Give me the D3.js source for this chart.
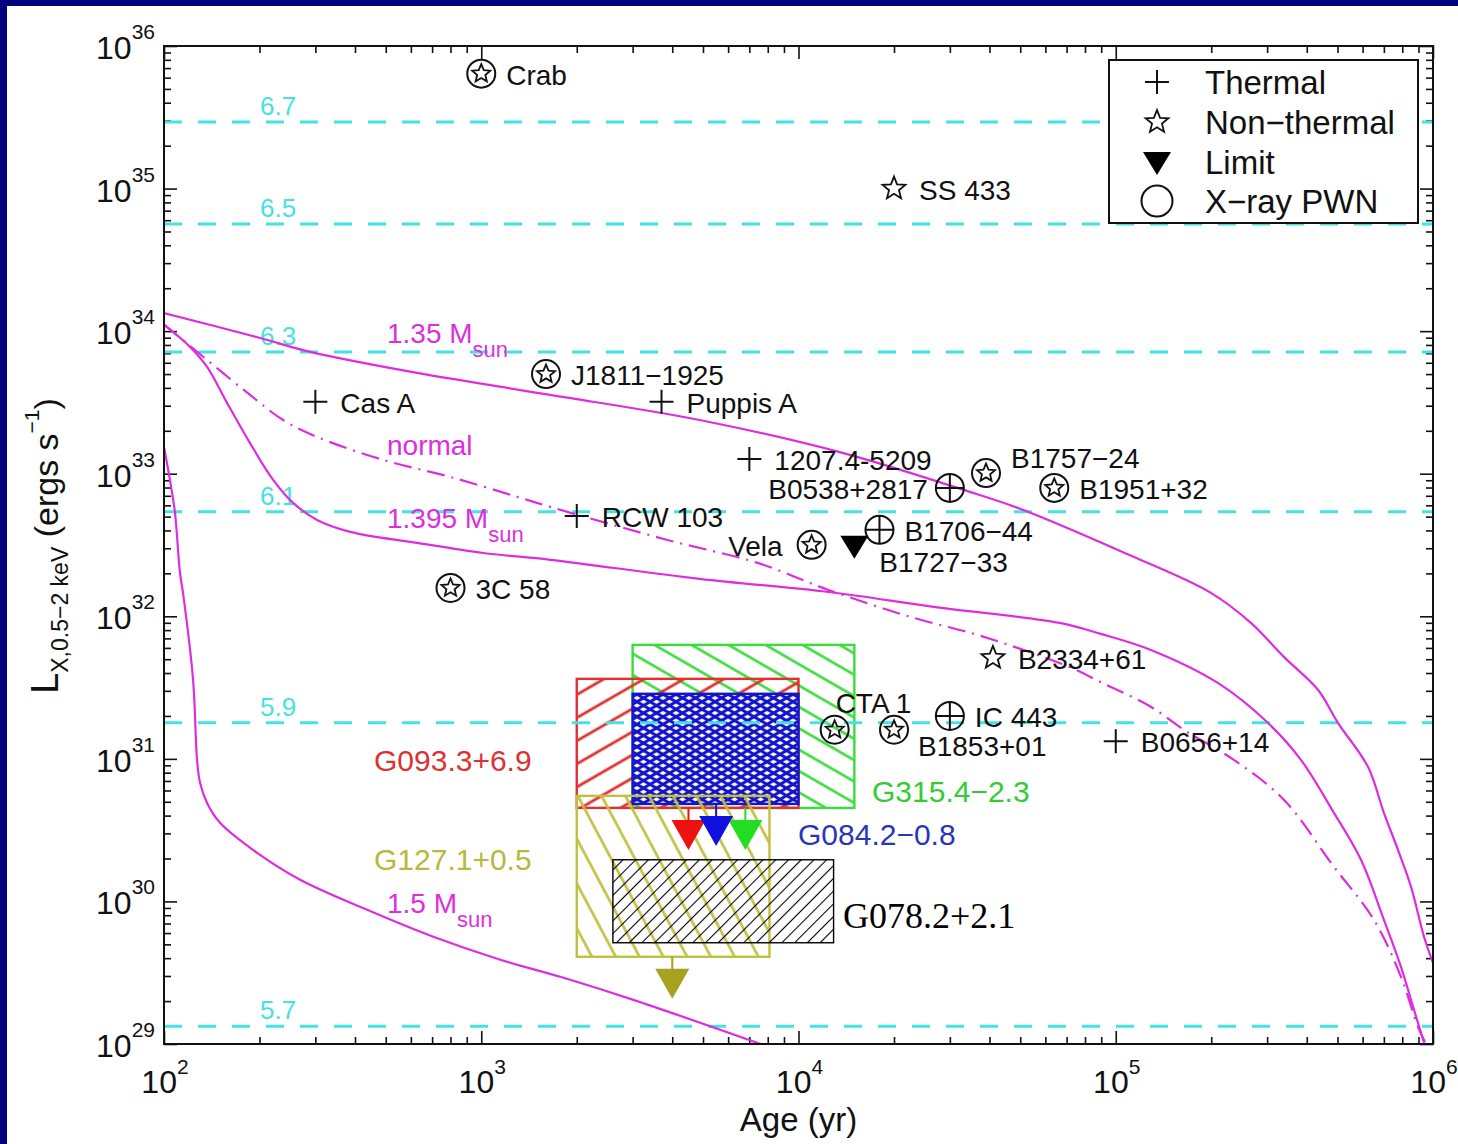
<!DOCTYPE html>
<html>
<head>
<meta charset="utf-8">
<script src="https://cdn.jsdelivr.net/npm/d3@7"></script>
<style>
  body { margin: 0; background: #fff; }
  svg { display: block; font-family: "Liberation Sans", Arial, Helvetica, sans-serif; }
</style>
</head>
<body>
<svg id="chart" width="1458" height="1144"></svg>
<script>
// cooling curves, [age (yr), L_X (erg/s)]
var curve135 = [[100,1.34e34],[201,8.96e33],[289,7.15e33],[628,5.09e33],[1651,3.57e33],[4873,2.38e33],[13760,1.40e33],[33160,7.70e32],[50150,5.66e32],[109900,2.70e32],[199400,1.46e32],[266700,8.99e31],[338800,5.19e31],[433800,3.05e31],[501600,1.79e31],[623700,8.79e30],[700300,4.18e30],[775600,2.30e30],[852300,1.27e30],[936900,5.65e29],[1000000,3.71e29]];
var curveNormal = [[100,1.11e34],[136.7,6.28e33],[186.7,3.57e33],[237.4,2.38e33],[303.8,1.81e33],[490.9,1.25e33],[798.5,9.50e32],[1299,6.88e32],[1651,5.85e32],[3863,3.43e32],[7425,2.37e32],[12430,1.53e32],[23060,9.75e31],[37510,7.29e31],[71590,4.40e31],[89680,3.45e31],[129000,2.32e31],[163900,1.60e31],[235600,9.84e30],[338800,5.16e30],[487300,1.75e30],[651400,7.43e29],[792500,2.96e29],[896800,1.32e29],[950500,1.0e29]];
var curve1395 = [[100,1.11e34],[120.8,7.75e33],[136.7,5.61e33],[158,3.14e33],[186.7,1.64e33],[220.8,9.05e32],[255.3,6.24e32],[303.8,4.74e32],[386.2,3.91e32],[628,3.27e32],[1015,2.78e32],[1651,2.49e32],[4873,1.83e32],[12430,1.48e32],[27050,1.16e32],[66570,8.99e31],[89680,7.53e31],[129000,5.81e31],[209800,3.41e31],[301600,1.79e31],[383400,9.84e30],[487300,4.18e30],[592800,1.96e30],[700300,7.43e29],[792500,3.48e29],[871200,1.74e29],[936900,1.02e29]];
var curve15 = [[100,1.54e33],[104.4,9.05e32],[108.3,5.31e32],[112.3,2.02e32],[114.8,1.46e32],[123.5,3.58e31],[127.1,9.84e30],[129.9,6.79e30],[136.7,4.91e30],[150.2,3.56e30],[196.6,2.19e30],[268.5,1.42e30],[436.9,8.73e29],[705.9,5.65e29],[1148,3.90e29],[1775,2.96e29],[3016,2.04e29],[7590,1.0e29]];

// log T lines
var tempLabels = ["6.7", "6.5", "6.3", "6.1", "5.9", "5.7"];
var tempL = [2.93e35, 5.65e34, 7.15e33, 5.42e32, 1.79e31, 1.33e29];

// known objects
var srcNames = ["Crab","SS 433","J1811\u22121925","Cas A","Puppis A","1207.4-5209","B0538+2817","B1757\u221224","B1951+32","RCW 103","B1706\u221244","Vela","B1727\u221233","3C 58","B2334+61","CTA 1","IC 443","B1853+01","B0656+14"];
var srcAge = [1000, 2.0e4, 1600, 300, 3700, 7000, 3.0e4, 3.9e4, 6.4e4, 2000, 1.8e4, 1.1e4, 1.5e4, 800, 4.1e4, 1.3e4, 3.0e4, 2.0e4, 1.0e5];
var srcL = [6.4e35, 1.0e35, 5.0e33, 3.2e33, 3.2e33, 1.27e33, 7.95e32, 1.01e33, 7.95e32, 5.06e32, 4.04e32, 3.17e32, 3.12e32, 1.58e32, 5.11e31, 1.60e31, 2.0e31, 1.60e31, 1.33e31];
var srcKind = ["pwnNT","NT","pwnNT","TH","TH","TH","pwnTH","pwnNT","pwnNT","TH","pwnTH","pwnNT","LIM","pwnNT","NT","pwnNT","pwnTH","pwnNT","TH"];

// SNR limits (boxes)
var boxNames = ["G315.4\u22122.3", "G093.3+6.9", "G084.2\u22120.8", "G127.1+0.5", "G078.2+2.1"];
var boxAgeLo = [3000, 2000, 3000, 2000, 2600];
var boxAgeHi = [15000, 10000, 10000, 8100, 12900];
var boxLLo = [4.53e30, 4.53e30, 4.83e30, 4.09e29, 5.13e29];
var boxLHi = [6.30e31, 3.64e31, 2.86e31, 5.50e30, 1.96e30];
var boxArrowAge = [6800, 4500, 5500, 4000, null];

var svg = d3.select("#chart");
var magenta = "#dd2edd", cyan = "#45e2e2";

var x = d3.scaleLog().domain([1e2, 1e6]).range([164, 1433]);
var y = d3.scaleLog().domain([1e29, 1e36]).range([1044, 46]);
var x0 = x.range()[0], x1 = x.range()[1], y0 = y.range()[1], y1 = y.range()[0];

svg.append("rect").attr("width", 1458).attr("height", 1144).attr("fill", "#fff");
svg.append("rect").attr("width", 1458).attr("height", 6).attr("fill", "#02027e");
svg.append("rect").attr("width", 7).attr("height", 1144).attr("fill", "#02027e");

var defs = svg.append("defs");
defs.append("clipPath").attr("id", "plotClip").append("rect")
	.attr("x", x0).attr("y", y0).attr("width", x1 - x0).attr("height", y1 - y0);

function hatch(id, color, gap, angle, sw) {
	var p = defs.append("pattern").attr("id", id)
		.attr("patternUnits", "userSpaceOnUse")
		.attr("width", gap).attr("height", gap)
		.attr("patternTransform", "rotate(" + angle + ")");
	p.append("line").attr("x1", -1).attr("x2", gap + 1)
		.attr("y1", gap / 2).attr("y2", gap / 2)
		.attr("stroke", color).attr("stroke-width", sw);
}
hatch("hGreen", "#3ade3a", 18.5, 30, 2.6);
hatch("hRed", "#e03030", 20, -30, 2.8);
hatch("hBlue1", "#1414c8", 6.5, 30, 3);
hatch("hBlue2", "#1414c8", 6.5, -30, 3);
hatch("hYellow", "#c0c040", 21, 62, 2.6);
hatch("hBlack", "#000", 9, -45, 1.1);

var boxStyle = [
	{stroke: "#3ade3a", fills: ["url(#hGreen)"], bg: null, text: "#33cc33", tx: 872, ty: 802, font: "Liberation Sans", size: 30},
	{stroke: "#e03030", fills: ["url(#hRed)"], bg: null, text: "#d83434", tx: 374, ty: 771, font: "Liberation Sans", size: 30},
	{stroke: "#1414c8", fills: ["url(#hBlue1)", "url(#hBlue2)"], bg: "#fff", text: "#2a36b8", tx: 798, ty: 845, font: "Liberation Sans", size: 30},
	{stroke: "#c0c040", fills: ["url(#hYellow)"], bg: null, text: "#b8b83c", tx: 374, ty: 870, font: "Liberation Sans", size: 30},
	{stroke: "#000", fills: ["url(#hBlack)"], bg: null, text: "#000", tx: 843, ty: 928, font: "Liberation Serif", size: 36}
];
var arrowFill = ["#22dd22", "#ee1111", "#1111dd", "#a8a020"];

// ---- axes ----
var xMajor = [1e2, 1e3, 1e4, 1e5, 1e6], xMinor = [];
for (var e = 2; e < 6; e++) for (var k = 2; k < 10; k++) xMinor.push(k * Math.pow(10, e));
var yMajor = [], yMinor = [];
for (var e = 29; e <= 36; e++) yMajor.push(Math.pow(10, e));
for (var e = 29; e < 36; e++) for (var k = 2; k < 10; k++) yMinor.push(k * Math.pow(10, e));

function ticks(axisFn, scale, tx, ty, values, len) {
	svg.append("g").attr("transform", "translate(" + tx + "," + ty + ")")
		.call(axisFn(scale).tickValues(values).tickSize(-len).tickFormat(""))
		.call(function(g) {
			g.select(".domain").remove();
			g.selectAll("line").attr("stroke", "#111").attr("stroke-width", 1.6);
		});
}
[[xMajor, 13], [xMinor, 7]].forEach(function(t) {
	ticks(d3.axisBottom, x, 0, y1, t[0], t[1]);
	ticks(d3.axisTop, x, 0, y0, t[0], t[1]);
});
[[yMajor, 13], [yMinor, 7]].forEach(function(t) {
	ticks(d3.axisLeft, y, x0, 0, t[0], t[1]);
	ticks(d3.axisRight, y, x1, 0, t[0], t[1]);
});

yMajor.forEach(function(v) {
	var t = svg.append("text").attr("x", x0 - 9).attr("y", y(v) + 13)
		.attr("text-anchor", "end").attr("font-size", 32).attr("fill", "#111");
	t.append("tspan").text("10");
	t.append("tspan").attr("dy", -20).attr("font-size", 21).text(Math.round(Math.log10(v)));
});
xMajor.forEach(function(v) {
	var t = svg.append("text").attr("x", x(v) + 1).attr("y", 1093)
		.attr("text-anchor", "middle").attr("font-size", 32).attr("fill", "#111");
	t.append("tspan").text("10");
	t.append("tspan").attr("dy", -19).attr("font-size", 21).text(Math.round(Math.log10(v)));
});

svg.append("text").attr("x", (x0 + x1) / 2).attr("y", 1131)
	.attr("text-anchor", "middle").attr("font-size", 33).attr("fill", "#111").text("Age (yr)");

var yl = svg.append("text").attr("transform", "translate(58,546) rotate(-90)")
	.attr("text-anchor", "middle").attr("font-size", 34).attr("fill", "#111");
yl.append("tspan").attr("font-size", 38).text("L");
yl.append("tspan").attr("font-size", 23).attr("dy", 10).text("X,0.5\u22122 keV");
yl.append("tspan").attr("dy", -10).text(" (ergs s");
yl.append("tspan").attr("font-size", 21).attr("dy", -19).text("\u22121");
yl.append("tspan").attr("dy", 19).text(")");

// ---- boxes ----
boxNames.forEach(function(name, i) {
	var st = boxStyle[i];
	var bx = x(boxAgeLo[i]), bw = x(boxAgeHi[i]) - bx;
	var by = y(boxLHi[i]), bh = y(boxLLo[i]) - by;
	if (st.bg) svg.append("rect").attr("x", bx).attr("y", by).attr("width", bw).attr("height", bh).attr("fill", st.bg);
	st.fills.forEach(function(f) {
		svg.append("rect").attr("x", bx).attr("y", by).attr("width", bw).attr("height", bh).attr("fill", f);
	});
	svg.append("rect").attr("x", bx).attr("y", by).attr("width", bw).attr("height", bh)
		.attr("fill", "none").attr("stroke", st.stroke).attr("stroke-width", i == 4 ? 1.4 : 2.4);
	svg.append("text").attr("x", st.tx).attr("y", st.ty).attr("font-size", st.size)
		.style("font-family", st.font).attr("fill", st.text).text(name);
});
boxNames.forEach(function(name, i) {
	if (!boxArrowAge[i]) return;
	var ax = x(boxArrowAge[i]), ay = y(boxLLo[i]);
	svg.append("line").attr("x1", ax).attr("x2", ax).attr("y1", ay).attr("y2", ay + 13)
		.attr("stroke", arrowFill[i]).attr("stroke-width", 2);
	svg.append("path").attr("d", "M" + (ax - 17) + "," + (ay + 12) + "L" + (ax + 17) + "," + (ay + 12) + "L" + ax + "," + (ay + 42) + "Z")
		.attr("fill", arrowFill[i]);
});

// ---- temperature lines ----
tempL.forEach(function(v, i) {
	svg.append("line").attr("x1", x0).attr("x2", x1).attr("y1", y(v)).attr("y2", y(v))
		.attr("stroke", cyan).attr("stroke-width", 3).attr("stroke-dasharray", "18,16");
	svg.append("text").attr("x", 260).attr("y", y(v) - 7).attr("font-size", 26)
		.attr("fill", cyan).text(tempLabels[i]);
});

// ---- cooling curves ----
var line = d3.line().curve(d3.curveCatmullRom.alpha(0.5))
	.x(function(d) { return x(d[0]); }).y(function(d) { return y(d[1]); });
var cg = svg.append("g").attr("clip-path", "url(#plotClip)");
[curve135, curve1395, curve15].forEach(function(c) {
	cg.append("path").datum(c).attr("d", line).attr("fill", "none")
		.attr("stroke", magenta).attr("stroke-width", 2.2);
});
cg.append("path").datum(curveNormal).attr("d", line).attr("fill", "none")
	.attr("stroke", magenta).attr("stroke-width", 2.2).attr("stroke-dasharray", "18,7,2,7");

function massLabel(px, py, main, sub) {
	var t = svg.append("text").attr("x", px).attr("y", py).attr("font-size", 28).attr("fill", magenta);
	t.append("tspan").text(main);
	if (sub) t.append("tspan").attr("dy", 14).attr("font-size", 22).text(sub);
}
massLabel(387, 343, "1.35 M", "sun");
massLabel(387, 455, "normal", null);
massLabel(387, 528, "1.395 M", "sun");
massLabel(387, 913, "1.5 M", "sun");

// ---- markers ----
function starPath(R, r) {
	var pts = [];
	for (var i = 0; i < 10; i++) {
		var a = -Math.PI / 2 + i * Math.PI / 5, rad = i % 2 ? r : R;
		pts.push((rad * Math.cos(a)).toFixed(2) + "," + (rad * Math.sin(a)).toFixed(2));
	}
	return "M" + pts.join("L") + "Z";
}
function marker(g, kind) {
	var s = {stroke: "#111", "stroke-width": 2, fill: "none"};
	function add(tag) { var el = g.append(tag); for (var a in s) el.attr(a, s[a]); return el; }
	if (kind == "TH") add("path").attr("d", "M-12,0H12M0,-12V12");
	if (kind == "NT") add("path").attr("d", starPath(12, 5.2)).attr("stroke-width", 1.8);
	if (kind == "pwnNT") { add("circle").attr("r", 14); add("path").attr("d", starPath(9.5, 4.3)).attr("stroke-width", 1.8); }
	if (kind == "pwnTH") { add("circle").attr("r", 14); add("path").attr("d", "M-14,0H14M0,-14V14"); }
	if (kind == "LIM") g.append("path").attr("d", "M-14,-10L14,-10L0,13Z").attr("fill", "#000");
	if (kind == "PWN") add("circle").attr("r", 15.5);
}

var labelPos = {"B0538+2817": [-22, 11, "end"], "Vela": [-29, 11, "end"], "B1757\u221224": [25, -5, "start"],
	"B1727\u221233": [25, 26, "start"], "CTA 1": [1, -17, "start"], "B1853+01": [24, 26, "start"]};
srcNames.forEach(function(name, i) {
	var px = x(srcAge[i]), py = y(srcL[i]);
	marker(svg.append("g").attr("transform", "translate(" + px + "," + py + ")"), srcKind[i]);
	var lp = labelPos[name] || [25, 11, "start"];
	svg.append("text").attr("x", px + lp[0]).attr("y", py + lp[1]).attr("text-anchor", lp[2])
		.attr("font-size", 28).attr("fill", "#111").text(name);
});

// ---- frame and legend ----
svg.append("rect").attr("x", x0).attr("y", y0).attr("width", x1 - x0).attr("height", y1 - y0)
	.attr("fill", "none").attr("stroke", "#111").attr("stroke-width", 2);

var legItems = [["TH", "Thermal"], ["NT", "Non\u2212thermal"], ["LIM", "Limit"], ["PWN", "X\u2212ray PWN"]];
var legRows = [82, 122, 162, 201];
svg.append("rect").attr("x", 1109).attr("y", 60).attr("width", 309).attr("height", 163)
	.attr("fill", "#fff").attr("stroke", "#111").attr("stroke-width", 2);
legItems.forEach(function(it, i) {
	marker(svg.append("g").attr("transform", "translate(1157," + legRows[i] + ")"), it[0]);
	svg.append("text").attr("x", 1205).attr("y", legRows[i] + 12).attr("font-size", 33)
		.attr("fill", "#111").text(it[1]);
});
</script>
</body>
</html>
